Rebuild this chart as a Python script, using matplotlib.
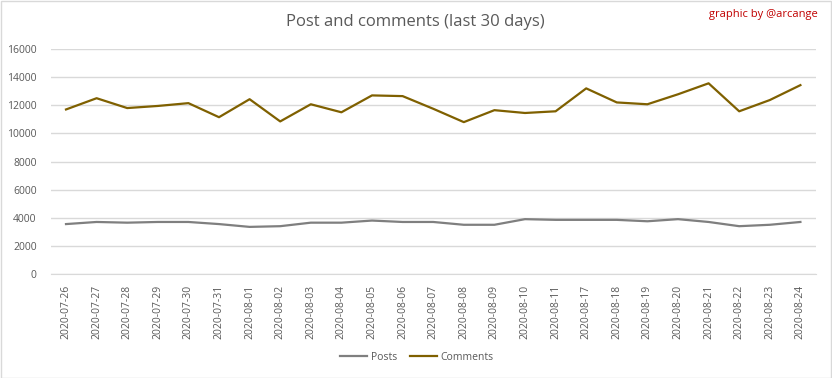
import matplotlib.pyplot as plt
import numpy as np

dates = ['2020-07-26', '2020-07-27', '2020-07-28', '2020-07-29', '2020-07-30',
         '2020-07-31', '2020-08-01', '2020-08-02', '2020-08-03', '2020-08-04',
         '2020-08-05', '2020-08-06', '2020-08-07', '2020-08-08', '2020-08-09',
         '2020-08-10', '2020-08-11', '2020-08-17', '2020-08-18', '2020-08-19',
         '2020-08-20', '2020-08-21', '2020-08-22', '2020-08-23', '2020-08-24']
posts = [3550, 3700, 3650, 3700, 3700, 3550, 3350, 3400, 3650, 3650,
         3800, 3700, 3700, 3500, 3500, 3900, 3850, 3850, 3850, 3750,
         3900, 3700, 3400, 3500, 3700]
comments = [11700, 12500, 11800, 11950, 12150, 11150, 12430, 10850, 12070, 11500,
            12700, 12650, 11750, 10800, 11650, 11450, 11570, 13200, 12200, 12070,
            12780, 13560, 11570, 12370, 13430]

plt.rcParams['font.family'] = ['Open Sans', 'DejaVu Sans']

fig = plt.figure(figsize=(8.32, 3.78), dpi=100)
ax = fig.add_axes([50.7 / 832, 1 - 274 / 378, 765 / 832, 225 / 378])

x = np.arange(len(dates))
ax.plot(x, posts, color='#7F7F7F', lw=1.6, label='Posts')
ax.plot(x, comments, color='#7F6000', lw=1.6, label='Comments')

ax.set_xlim(-0.5, len(dates) - 0.5)
ax.set_ylim(0, 16000)
ax.set_yticks(range(0, 16001, 2000))
ax.set_xticks(x)
ax.set_xticklabels(dates, rotation=90)
ax.tick_params(axis='both', length=0, labelsize=7.5, labelcolor='#595959')
ax.tick_params(axis='y', pad=10)
ax.tick_params(axis='x', pad=8)
ax.grid(axis='y', color='#D9D9D9', lw=1)
ax.set_axisbelow(True)
for s in ['top', 'right', 'left']:
    ax.spines[s].set_visible(False)
ax.spines['bottom'].set_color('#D9D9D9')

fig.text(415 / 832, 1 - 22 / 378, 'Post and comments (last 30 days)', ha='center', va='center',
         fontsize=12, color='#595959')
fig.text(818 / 832, 1 - 15 / 378, 'graphic by @arcange', ha='right', va='center',
         fontsize=8, color='#C00000')

fig.legend(loc='center', bbox_to_anchor=(417 / 832, 1 - 357 / 378), ncol=2, frameon=False,
           fontsize=7.5, labelcolor='#595959', handlelength=2.6, columnspacing=1.3,
           handletextpad=0.3)

fig.patches.append(plt.Rectangle((0.001, 0.001), 0.998, 0.997, transform=fig.transFigure,
                                 fill=False, edgecolor='#D9D9D9', lw=1))

plt.savefig('out.png', dpi=100)
